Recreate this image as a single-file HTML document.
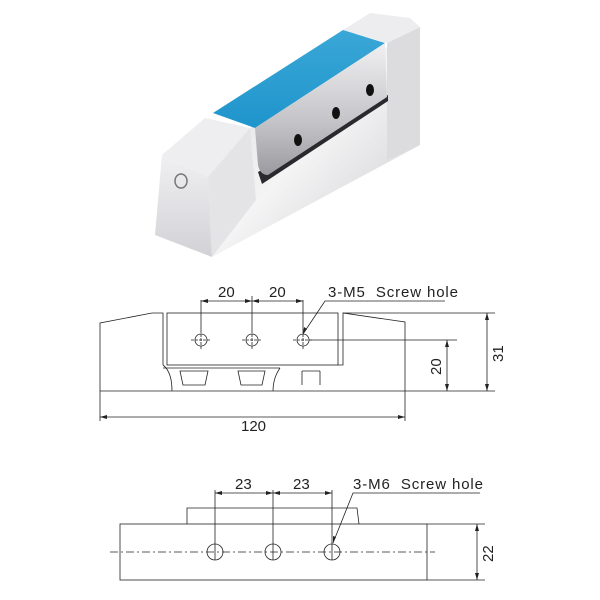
<!DOCTYPE html>
<html><head><meta charset="utf-8"><style>
html,body{margin:0;padding:0;background:#fff;}
svg{display:block;}
text{font-family:"Liberation Sans",sans-serif;font-size:15px;fill:#222;white-space:pre;}
</style></head><body>
<svg width="600" height="600" viewBox="0 0 600 600" xmlns="http://www.w3.org/2000/svg">
<defs>
<linearGradient id="side" x1="0" y1="0" x2="1" y2="1"><stop offset="0" stop-color="#d8d8da"/><stop offset="0.5" stop-color="#f4f4f5"/><stop offset="1" stop-color="#c9c9cc"/></linearGradient>
<linearGradient id="front" x1="0" y1="0" x2="0" y2="1"><stop offset="0" stop-color="#f0f0f2"/><stop offset="1" stop-color="#d2d2d6"/></linearGradient>
<linearGradient id="blue" x1="0" y1="0" x2="0" y2="1"><stop offset="0" stop-color="#3aa7d6"/><stop offset="1" stop-color="#1f95cc"/></linearGradient>
<linearGradient id="plate" x1="0" y1="0" x2="0" y2="1"><stop offset="0" stop-color="#f0f0f2"/><stop offset="0.6" stop-color="#c4c4c8"/><stop offset="1" stop-color="#9a9aa0"/></linearGradient>
</defs>
<!-- photo -->
<polygon points="208,177 250,128 420,28 420,145 212,257" fill="url(#side)"/>
<polygon points="387,43 420,27 420,145 387,160" fill="#dcdcdf"/>
<polygon points="343,30 370,13 410,18 420,27 387,43" fill="#ededef"/>
<polygon points="258,172 388,95 388,101 262,184" fill="#2a2a2e"/>
<polygon points="213,113 343,30 385,43 255,128" fill="url(#blue)"/>
<path d="M255,128 L385,43 L387,97 L268,175 Q260,175 258,165 Z" fill="url(#plate)"/>
<ellipse cx="298" cy="140" rx="4" ry="6" fill="#111"/>
<ellipse cx="336" cy="113" rx="4" ry="6" fill="#111"/>
<ellipse cx="370" cy="90" rx="4" ry="6" fill="#111"/>
<polygon points="162,155 205,118 250,128 208,177" fill="#eeeef0"/>
<polygon points="162,155 208,177 212,257 155,235" fill="url(#front)"/>
<polygon points="208,177 250,128 256,200 212,257" fill="#e4e4e7"/>
<ellipse cx="181" cy="181" rx="6" ry="7" fill="none" stroke="#777" stroke-width="1.5"/>
<!-- drawing 1 -->
<g fill="none" stroke="#222" stroke-width="0.8">
<polyline points="100,391 100,323 152,313 163,313 163,365"/>
<rect x="167" y="313" width="171" height="52"/>
<polyline points="338,365 343,365 343,313 405,322 405,391"/>
<line x1="100" y1="391" x2="405" y2="391"/>
<path d="M163,365 Q172,372 172,391 M280,368 Q273,378 273,391 M163,368 H280"/>
<path d="M180,371 h28 l-3,14 h-22 z M238,371 h27 l-3,14 h-21 z M302,371 v14 M320,371 v14 M302,371 h18"/>
<circle cx="201" cy="340" r="6"/><circle cx="252" cy="340" r="6"/><circle cx="303" cy="340" r="6"/>
<path d="M191,340 h20 M242,340 h20 M293,340 h20 M201,330 v20 M252,330 v20 M303,330 v20" stroke-dasharray="3,1"/>
<path d="M201,300 v30 M252,296 v34 M303,300 v30"/>
<line x1="201" y1="301" x2="303" y2="301"/>
<polyline points="445,301 325,301 303,334"/>
<line x1="309" y1="340" x2="457" y2="340"/>
<line x1="447" y1="340" x2="447" y2="391"/>
<line x1="405" y1="391" x2="495" y2="391"/>
<line x1="343" y1="313" x2="495" y2="313"/>
<line x1="487" y1="313" x2="487" y2="391"/>
<path d="M100,391 v30 M405,391 v30"/>
<line x1="100" y1="417" x2="405" y2="417"/>
</g>
<g fill="#222">
<path d="M201,301 l7,-2 v4z M252,301 l-7,-2 v4z M252,301 l7,-2 v4z M303,301 l-7,-2 v4z M100,417 l7,-2 v4z M405,417 l-7,-2 v4z M447,340 l-2,7 h4z M447,391 l-2,-7 h4z M487,313 l-2,7 h4z M487,391 l-2,-7 h4z M303,334 l1,-7 l3,2z"/>
</g>
<text x="218" y="297">20</text><text x="269" y="297">20</text>
<text x="328" y="297" textLength="130">3-M5  Screw hole</text>
<text x="241" y="431">120</text>
<text transform="translate(441,375) rotate(-90)">20</text>
<text transform="translate(503,362) rotate(-90)">31</text>
<!-- drawing 2 -->
<g fill="none" stroke="#222" stroke-width="0.8">
<rect x="120" y="524" width="307" height="56"/>
<polyline points="187,524 187,508 357,508 359,524"/>
<circle cx="215" cy="552" r="8"/><circle cx="273" cy="552" r="8"/><circle cx="332" cy="552" r="8"/>
<line x1="110" y1="552" x2="435" y2="552" stroke-dasharray="8,3,2,3"/>
<path d="M215,490 v70 M273,490 v70 M332,490 v70"/>
<line x1="215" y1="493" x2="332" y2="493"/>
<polyline points="480,493 353,493 333,543"/>
<line x1="427" y1="524" x2="485" y2="524"/>
<line x1="427" y1="580" x2="485" y2="580"/>
<line x1="477" y1="524" x2="477" y2="580"/>
</g>
<g fill="#222">
<path d="M215,493 l7,-2 v4z M273,493 l-7,-2 v4z M273,493 l7,-2 v4z M332,493 l-7,-2 v4z M477,524 l-2,7 h4z M477,580 l-2,-7 h4z M333,543 l0,-7 l3,1z"/>
</g>
<text x="235" y="489">23</text><text x="293" y="489">23</text>
<text x="353" y="489" textLength="130">3-M6  Screw hole</text>
<text transform="translate(493,562) rotate(-90)">22</text>
</svg>
</body></html>
